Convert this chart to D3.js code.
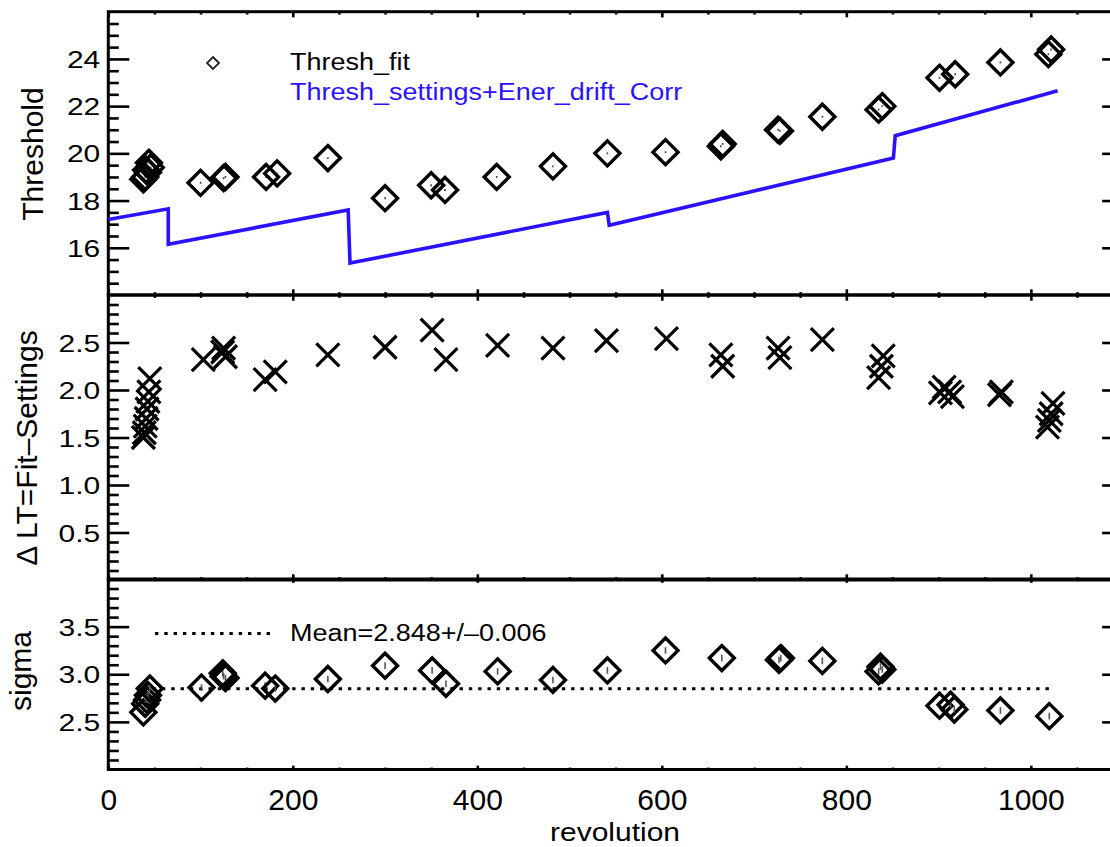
<!DOCTYPE html>
<html>
<head>
<meta charset="utf-8">
<script src="https://cdn.jsdelivr.net/npm/d3@7"></script>
<style>
  html, body { margin: 0; padding: 0; background: #fff; }
  svg { display: block; font-family: "Liberation Sans", Arial, Helvetica, sans-serif; }
</style>
</head>
<body>
<svg id="chart" width="1110" height="847"></svg>
<script>
// ---- data -------------------------------------------------------------
// Fitted low threshold per revolution
const fitRev    = [38, 40, 41, 43, 44, 46, 100, 125, 127, 171, 183, 238, 300, 350, 365, 421, 482, 541, 604, 664, 666, 726, 728, 774, 835, 839, 901, 918, 967, 1019, 1022];
const fitThresh = [18.9, 19.0, 19.3, 19.2, 19.6, 19.4, 18.75, 18.95, 19.0, 19.0, 19.15, 19.8, 18.1, 18.65, 18.45, 19.0, 19.45, 20.0, 20.05, 20.3, 20.4, 21.0, 20.95, 21.55, 21.85, 22.0, 23.2, 23.35, 23.85, 24.2, 24.4];
const fitErr    = [0.04, 0.04, 0.04, 0.04, 0.04, 0.04, 0.04, 0.04, 0.04, 0.04, 0.04, 0.04, 0.04, 0.04, 0.04, 0.04, 0.04, 0.04, 0.04, 0.04, 0.04, 0.04, 0.04, 0.04, 0.04, 0.04, 0.04, 0.04, 0.04, 0.04, 0.04];

// Threshold settings corrected for energy drift (step curve)
const setRev    = [0, 65, 65, 260, 262, 541, 543, 851, 853, 1029];
const setThresh = [17.2, 17.65, 16.15, 17.6, 15.35, 17.5, 16.95, 19.8, 20.75, 22.65];

// Difference fit - settings
const ltRev   = [38, 39, 40, 41, 42, 43, 44, 45, 103, 124, 125, 127, 170, 181, 238, 300, 351, 366, 422, 482, 540, 605, 664, 666, 726, 728, 774, 835, 838, 840, 902, 906, 912, 915, 966, 968, 1018, 1020, 1022, 1024];
const ltDelta = [1.50, 1.55, 1.62, 1.70, 1.80, 1.88, 1.98, 2.12, 2.32, 2.40, 2.44, 2.35, 2.11, 2.19, 2.37, 2.45, 2.63, 2.32, 2.47, 2.44, 2.52, 2.54, 2.37, 2.25, 2.44, 2.34, 2.53, 2.13, 2.25, 2.36, 1.97, 2.03, 1.98, 1.93, 1.95, 1.98, 1.61, 1.68, 1.75, 1.86];

// Fitted sigma per revolution
const sigRev = [38, 40, 42, 43, 45, 101, 124, 125, 127, 170, 181, 238, 300, 351, 366, 422, 482, 541, 604, 665, 727, 729, 774, 835, 837, 839, 901, 913, 917, 967, 1020];
const sigVal = [2.60, 2.69, 2.73, 2.78, 2.85, 2.86, 3.01, 2.98, 2.96, 2.88, 2.85, 2.95, 3.09, 3.04, 2.90, 3.03, 2.94, 3.04, 3.25, 3.17, 3.15, 3.17, 3.14, 3.03, 3.08, 3.05, 2.67, 2.68, 2.63, 2.62, 2.56];
const sigErr = [0.035, 0.035, 0.035, 0.035, 0.035, 0.035, 0.035, 0.035, 0.035, 0.035, 0.035, 0.035, 0.035, 0.035, 0.035, 0.035, 0.035, 0.035, 0.035, 0.035, 0.035, 0.035, 0.035, 0.035, 0.035, 0.035, 0.035, 0.035, 0.035, 0.035, 0.035];

const meanSigma = 2.848;
const meanSigmaErr = 0.006;
const meanRange = [38, 1020];

// Axis ticks
const xMajor = [0, 200, 400, 600, 800, 1000];
const topMajor = [16, 18, 20, 22, 24];
const midMajor = [0.5, 1.0, 1.5, 2.0, 2.5];
const botMajor = [2.5, 3.0, 3.5];

// ---- layout -----------------------------------------------------------
const svg = d3.select("#chart");
const L = 108.3, R = 1123.1;
const panels = [
  { key: "top", domain: [14, 26], top: 11.7, bottom: 295, major: topMajor, minorStep: 0.5, fmt: d3.format("d"), title: "Threshold", titleX: 43, titleY: 154 },
  { key: "mid", domain: [0, 3],   top: 295,  bottom: 580, major: midMajor, minorStep: 0.1, fmt: d3.format(".1f"), title: "\u0394 LT=Fit\u2013Settings", titleX: 37, titleY: 448 },
  { key: "bot", domain: [2, 4],   top: 579,  bottom: 769.5, major: botMajor, minorStep: 0.1, fmt: d3.format(".1f"), title: "sigma", titleX: 31, titleY: 671 }
];

const x = d3.scaleLinear().domain([0, 1100]).range([L, R]);
panels.forEach(p => { p.y = d3.scaleLinear().domain(p.domain).range([p.bottom, p.top]); });

const xMinor = d3.range(0, 1101, 50).filter(v => !xMajor.includes(v));

function styleAxis(g) {
  g.select(".domain").remove();
  g.selectAll(".tick line").attr("stroke", "#000").attr("stroke-width", 2.6);
}

// ---- axes and frames ---------------------------------------------------
panels.forEach((p, i) => {
  const h = p.bottom - p.top;
  const xt = 0.02 * h;
  const g = svg.append("g").attr("class", "axes-" + p.key);

  // minor / major x ticks on bottom and top edges (pointing inward)
  g.append("g").attr("transform", `translate(0,${p.bottom})`)
    .call(d3.axisBottom(x).tickValues(xMinor).tickSize(-xt / 2).tickFormat(""))
    .call(styleAxis);
  const bx = g.append("g").attr("transform", `translate(0,${p.bottom})`)
    .call(d3.axisBottom(x).tickValues(xMajor).tickSize(-xt).tickPadding(19)
      .tickFormat(i === panels.length - 1 ? d3.format("d") : ""))
    .call(styleAxis);
  bx.selectAll(".tick text").attr("font-size", 30).attr("fill", "#000")
    .attr("font-family", "Liberation Sans, Arial, sans-serif");
  g.append("g").attr("transform", `translate(0,${p.top})`)
    .call(d3.axisTop(x).tickValues(xMinor).tickSize(-xt / 2).tickFormat(""))
    .call(styleAxis);
  g.append("g").attr("transform", `translate(0,${p.top})`)
    .call(d3.axisTop(x).tickValues(xMajor).tickSize(-xt).tickFormat(""))
    .call(styleAxis);

  // y ticks, left and right
  const [d0, d1] = p.domain;
  const yMinor = d3.range(d0, d1 + 1e-9, p.minorStep).map(v => +v.toFixed(3))
    .filter(v => v > d0 && v < d1 && !p.major.some(m => Math.abs(m - v) < 1e-6));
  g.append("g").attr("transform", `translate(${L},0)`)
    .call(d3.axisLeft(p.y).tickValues(yMinor).tickSize(-10.5).tickFormat(""))
    .call(styleAxis);
  const ly = g.append("g").attr("transform", `translate(${L},0)`)
    .call(d3.axisLeft(p.y).tickValues(p.major).tickSize(-21).tickPadding(8 - 21).tickFormat(p.fmt))
    .call(styleAxis);
  ly.selectAll(".tick text")
    .attr("font-size", 30).attr("fill", "#000")
    .attr("x", -8).attr("dy", "0.36em")
    .attr("transform", "scale(1,0.8)");
  g.append("g").attr("transform", `translate(${R},0)`)
    .call(d3.axisRight(p.y).tickValues(yMinor).tickSize(-10.5).tickFormat(""))
    .call(styleAxis);
  g.append("g").attr("transform", `translate(${R},0)`)
    .call(d3.axisRight(p.y).tickValues(p.major).tickSize(-21).tickFormat(""))
    .call(styleAxis);

  // frame
  g.append("rect")
    .attr("x", L).attr("y", p.top).attr("width", R - L).attr("height", h)
    .attr("fill", "none").attr("stroke", "#000").attr("stroke-width", 3);

  // y title
  g.append("text")
    .attr("transform", `translate(${p.titleX},${p.titleY}) rotate(-90)`)
    .attr("text-anchor", "middle").attr("font-size", 30).attr("fill", "#000")
    .text(p.title);
});

svg.append("text")
  .attr("transform", `translate(${(L + R) / 2 - 0.7},840.5) scale(1,0.86)`)
  .attr("text-anchor", "middle").attr("font-size", 30).attr("fill", "#000")
  .text("revolution");

// ---- marks --------------------------------------------------------------
const diamond = r => `M0,${-r}L${r},0L0,${r}L${-r},0Z`;
const cross = r => `M${-r},${-r}L${r},${r}M${-r},${r}L${r},${-r}`;

const [pTop, pMid, pBot] = panels;

// threshold settings step curve
const setLine = d3.line().x(d => x(d[0])).y(d => pTop.y(d[1]));
svg.append("path")
  .datum(d3.zip(setRev, setThresh))
  .attr("d", setLine)
  .attr("fill", "none").attr("stroke", "#2b12ff").attr("stroke-width", 3.6)
  .attr("stroke-linejoin", "miter");

// fitted threshold diamonds with tiny error bars
const gFit = svg.append("g");
fitRev.forEach((r, i) => {
  gFit.append("line")
    .attr("x1", x(r)).attr("x2", x(r))
    .attr("y1", pTop.y(fitThresh[i] - fitErr[i])).attr("y2", pTop.y(fitThresh[i] + fitErr[i]))
    .attr("stroke", "#444").attr("stroke-width", 1.6);
  gFit.append("path")
    .attr("d", diamond(12.5))
    .attr("transform", `translate(${x(r)},${pTop.y(fitThresh[i])})`)
    .attr("fill", "none").attr("stroke", "#000").attr("stroke-width", 3.4)
    .attr("stroke-linejoin", "miter");
});

// legend, top panel
svg.append("path").attr("d", diamond(6))
  .attr("transform", "translate(213,63)")
  .attr("fill", "none").attr("stroke", "#222").attr("stroke-width", 1.8);
svg.append("text").attr("transform", "translate(290,70) scale(1,0.88)")
  .attr("font-size", 27).attr("fill", "#000").text("Thresh_fit");
svg.append("text").attr("transform", "translate(290,100) scale(1,0.88)")
  .attr("font-size", 27).attr("fill", "#2b12ff").text("Thresh_settings+Ener_drift_Corr");

// delta crosses
const gLt = svg.append("g");
ltRev.forEach((r, i) => {
  gLt.append("path")
    .attr("d", cross(11.5))
    .attr("transform", `translate(${x(r)},${pMid.y(ltDelta[i])})`)
    .attr("fill", "none").attr("stroke", "#000").attr("stroke-width", 3.2);
});

// sigma mean line
svg.append("line")
  .attr("x1", x(meanRange[0])).attr("x2", x(meanRange[1]))
  .attr("y1", pBot.y(meanSigma)).attr("y2", pBot.y(meanSigma))
  .attr("stroke", "#000").attr("stroke-width", 3.2).attr("stroke-dasharray", "3.4,5.9");

// sigma diamonds with error bars
const gSig = svg.append("g");
sigRev.forEach((r, i) => {
  gSig.append("line")
    .attr("x1", x(r)).attr("x2", x(r))
    .attr("y1", pBot.y(sigVal[i] - sigErr[i])).attr("y2", pBot.y(sigVal[i] + sigErr[i]))
    .attr("stroke", "#555").attr("stroke-width", 1.6);
  gSig.append("path")
    .attr("d", diamond(12.5))
    .attr("transform", `translate(${x(r)},${pBot.y(sigVal[i])})`)
    .attr("fill", "none").attr("stroke", "#000").attr("stroke-width", 3.4)
    .attr("stroke-linejoin", "miter");
});

// legend, sigma panel
svg.append("line").attr("x1", 155).attr("x2", 272).attr("y1", 633.5).attr("y2", 633.5)
  .attr("stroke", "#000").attr("stroke-width", 3.2).attr("stroke-dasharray", "3.4,5.9");
svg.append("text").attr("transform", "translate(290,641) scale(1,0.88)")
  .attr("font-size", 27).attr("fill", "#000")
  .text(`Mean=${meanSigma.toFixed(3)}+/\u2013${meanSigmaErr.toFixed(3)}`);
</script>
</body>
</html>
